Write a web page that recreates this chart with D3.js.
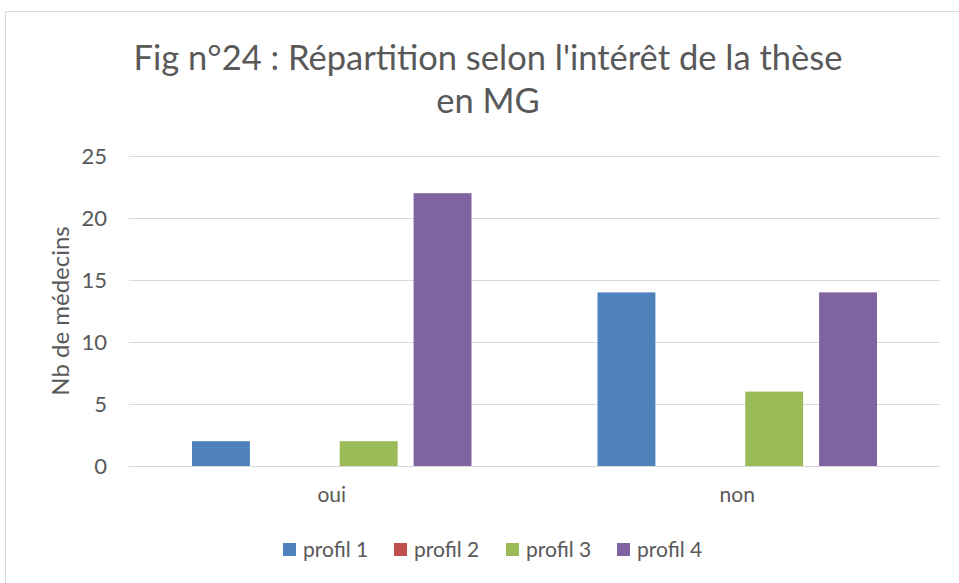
<!DOCTYPE html>
<html>
<head>
<meta charset="utf-8">
<script src="https://cdn.jsdelivr.net/npm/d3@7"></script>
<style>
  body { margin: 0; background: #fff; }
  text { font-family: Lato, "Open Sans", sans-serif; fill: #595959; }
</style>
</head>
<body>
<div id="chart"></div>
<script>
let categories = ["oui", "non"];
let series = ["profil 1", "profil 2", "profil 3", "profil 4"];
let profil1 = [2, 14];
let profil2 = [0, 0];
let profil3 = [2, 6];
let profil4 = [22, 14];
let yTicks = [0, 5, 10, 15, 20, 25];
let colors = ["#4f81bd", "#c0504d", "#9bbb59", "#8064a2"];

let values = [profil1, profil2, profil3, profil4];
let data = categories.map(function (c, i) {
    return { cat: c, vals: series.map(function (s, j) { return { key: s, value: values[j][i] }; }) };
});

let W = 959, H = 583;
let margin = { top: 156, right: 19, bottom: 117, left: 129 },
    width = W - margin.left - margin.right,
    height = H - margin.top - margin.bottom;

let svg = d3.select("#chart").append("svg")
    .attr("width", W)
    .attr("height", H);

svg.append("rect")
    .attr("x", 5.5).attr("y", 11.5)
    .attr("width", W).attr("height", H)
    .attr("fill", "none")
    .attr("stroke", "#d9d9d9");

let g = svg.append("g")
    .attr("transform", "translate(" + margin.left + "," + margin.top + ")");

let x0 = d3.scaleBand().domain(categories).range([0, width]);
let x1 = d3.scaleBand().domain(series)
    .range([63, x0.bandwidth() - 63])
    .paddingInner(0.216);
let y = d3.scaleLinear().domain([0, 25]).range([height, 0]);

// gridlines
g.selectAll(".grid")
    .data(yTicks)
    .enter().append("line")
    .attr("x1", 0).attr("x2", width)
    .attr("y1", function (d) { return Math.round(y(d)) + 0.5; })
    .attr("y2", function (d) { return Math.round(y(d)) + 0.5; })
    .attr("stroke", "#d9d9d9")
    .attr("stroke-width", 1);

// y tick labels
g.selectAll(".ytick")
    .data(yTicks)
    .enter().append("text")
    .attr("x", -22)
    .attr("y", function (d) { return y(d); })
    .attr("dy", "0.35em")
    .attr("text-anchor", "end")
    .attr("font-size", "22px")
    .text(function (d) { return d; });

// bars
let groups = g.selectAll(".grp")
    .data(data)
    .enter().append("g")
    .attr("transform", function (d) { return "translate(" + x0(d.cat) + ",0)"; });

groups.selectAll("rect")
    .data(function (d) { return d.vals; })
    .enter().append("rect")
    .attr("x", function (d) { return x1(d.key); })
    .attr("y", function (d) { return y(d.value); })
    .attr("width", x1.bandwidth())
    .attr("height", function (d) { return height - y(d.value); })
    .attr("fill", function (d, i) { return colors[i]; });

// category labels
g.selectAll(".xlab")
    .data(categories)
    .enter().append("text")
    .attr("x", function (d) { return x0(d) + x0.bandwidth() / 2; })
    .attr("y", height + 36)
    .attr("text-anchor", "middle")
    .attr("font-size", "21px")
    .text(function (d) { return d; });

// y axis title
svg.append("text")
    .attr("transform", "translate(69," + (margin.top + height / 2) + ") rotate(-90)")
    .attr("text-anchor", "middle")
    .attr("font-size", "24px")
    .text("Nb de médecins");

// title
svg.append("text")
    .attr("x", 488).attr("y", 70)
    .attr("text-anchor", "middle")
    .attr("font-size", "34.5px")
    .text("Fig n°24 : Répartition selon l'intérêt de la thèse");
svg.append("text")
    .attr("x", 488).attr("y", 113)
    .attr("text-anchor", "middle")
    .attr("font-size", "34.5px")
    .text("en MG");

// legend
let legendX = [283, 394, 506, 617];
let legend = svg.selectAll(".leg")
    .data(series)
    .enter().append("g")
    .attr("transform", function (d, i) { return "translate(" + legendX[i] + ",543)"; });
legend.append("rect")
    .attr("width", 13).attr("height", 13)
    .attr("fill", function (d, i) { return colors[i]; });
legend.append("text")
    .attr("x", 20).attr("y", 6.5)
    .attr("dy", "0.35em")
    .attr("font-size", "21px")
    .text(function (d) { return d; });
</script>
</body>
</html>
